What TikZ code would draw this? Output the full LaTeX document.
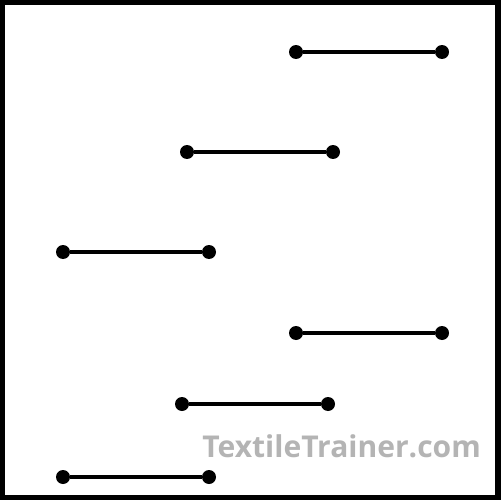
\documentclass[tikz,border=0pt]{standalone}
\usepackage{fontspec}
\newfontfamily\markfont{Open Sans}
\definecolor{markgray}{HTML}{B4B4B4}
\tikzset{
  dot/.style={circle, fill, inner sep=0pt, minimum size=0.28cm},
  seg/.style={line width=2.2pt}
}
\begin{document}
\begin{tikzpicture}[x=0.02cm, y=-0.02cm]
        \useasboundingbox (0,0) rectangle (500,500);
        \draw [line width=3.6pt] (1.5,1.5) rectangle (498.5,498.5);
        \node [dot] (a1) at (296,52) {};
        \node [dot] (b1) at (442,52) {};
        \node [dot] (a2) at (187,152) {};
        \node [dot] (b2) at (333,152) {};
        \node [dot] (a3) at (63,252) {};
        \node [dot] (b3) at (209,252) {};
        \node [dot] (a4) at (296,333) {};
        \node [dot] (b4) at (442,333) {};
        \node [dot] (a5) at (182,404) {};
        \node [dot] (b5) at (328,404) {};
        \node [dot] (a6) at (63,477) {};
        \node [dot] (b6) at (209,477) {};
        \foreach \i in {1,...,6}
          \draw [seg] (a\i) -- (b\i);
        \node [markgray, font=\markfont\bfseries\fontsize{17.1}{20}\selectfont, anchor=base west, inner sep=0pt] (mark) at (202,457) {TextileTrainer.com};
      \end{tikzpicture}
\end{document}
